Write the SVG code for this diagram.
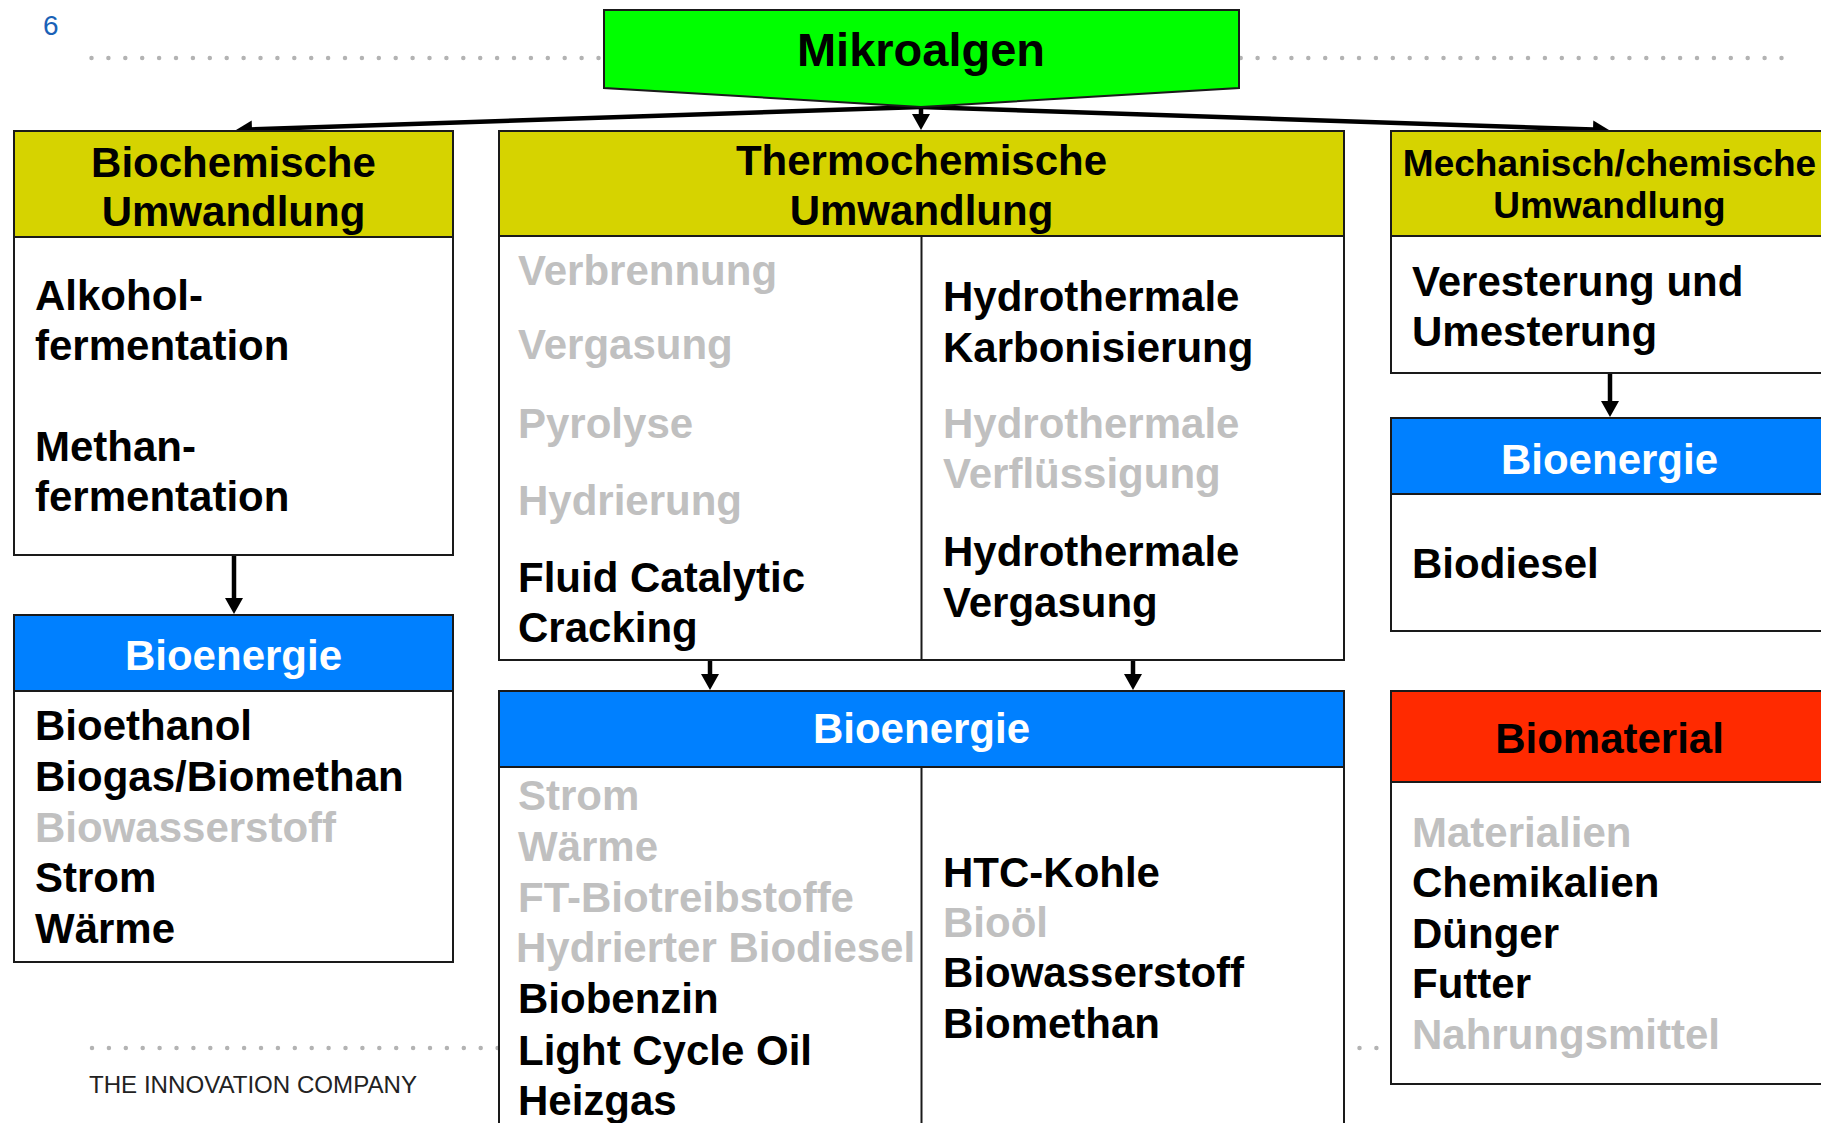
<svg xmlns="http://www.w3.org/2000/svg" width="1821" height="1123" viewBox="0 0 1821 1123">
  <defs>
    <style>
      text { font-family: "Liberation Sans", Arial, sans-serif; }
      .t { font-weight: bold; font-size: 42px; fill: #000; }
      .g { fill: #c0c0c0; }
      .w { fill: #ffffff; }
      .c { text-anchor: middle; }
      .h37 { font-size: 37px; }
      .h47 { font-size: 47px; }
      .box { fill: #ffffff; stroke: #1a1a1a; stroke-width: 2; }
      .yel { fill: #d6d300; stroke: #1a1a1a; stroke-width: 2; }
      .blu { fill: #0080ff; stroke: #1a1a1a; stroke-width: 2; }
      .red { fill: #ff2a00; stroke: #1a1a1a; stroke-width: 2; }
      .div { stroke: #1a1a1a; stroke-width: 2; }
      .dots { stroke: #b3b3b3; stroke-width: 4.5; stroke-linecap: round; stroke-dasharray: 0 16.9; fill: none; }
      .conn { stroke: #000; stroke-width: 4.5; fill: none; marker-end: url(#head); }
    </style>
    <marker id="head" markerUnits="userSpaceOnUse" viewBox="0 0 16 18" markerWidth="16" markerHeight="18" refX="8" refY="9" orient="auto">
      <path d="M0,0 L16,9 L0,18 z" fill="#000"/>
    </marker>
  </defs>

  <rect width="1821" height="1123" fill="#ffffff"/>

  <!-- page furniture -->
  <text x="43" y="35" font-size="28" fill="#1a62b7">6</text>
  <line class="dots" x1="91.5" y1="58" x2="1784" y2="58"/>
  <line class="dots" x1="92" y1="1048" x2="1784" y2="1048"/>
  <text x="89" y="1093" font-size="24" fill="#222" textLength="328" lengthAdjust="spacingAndGlyphs">THE INNOVATION COMPANY</text>

  <!-- connectors -->
  <g id="connectors">
    <line class="conn" x1="921" y1="107" x2="244" y2="129.7"/>
    <line class="conn" x1="921" y1="107" x2="921" y2="122"/>
    <line class="conn" x1="921" y1="107" x2="1601" y2="129.7"/>
    <line class="conn" x1="234" y1="555" x2="234" y2="606"/>
    <line class="conn" x1="1610" y1="373" x2="1610" y2="409"/>
    <line class="conn" x1="710" y1="660" x2="710" y2="682"/>
    <line class="conn" x1="1133" y1="660" x2="1133" y2="682"/>
  </g>

  <!-- source -->
  <g id="mikroalgen">
    <polygon points="604,10 1239,10 1239,88 921,107 604,88" fill="#00ff00" stroke="#1a1a1a" stroke-width="2"/>
    <text class="t c h47" x="921" y="66">Mikroalgen</text>
  </g>

  <!-- biochemical branch -->
  <g id="biochemische-umwandlung">
    <rect class="box" x="14" y="131" width="439" height="424"/>
    <rect class="yel" x="14" y="131" width="439" height="106"/>
    <text class="t c" x="233.5" y="177">Biochemische</text>
    <text class="t c" x="233.5" y="226">Umwandlung</text>
    <text class="t" x="35" y="310">Alkohol-</text>
    <text class="t" x="35" y="360">fermentation</text>
    <text class="t" x="35" y="461">Methan-</text>
    <text class="t" x="35" y="511">fermentation</text>
  </g>

  <g id="bioenergie-bio">
    <rect class="box" x="14" y="615" width="439" height="347"/>
    <rect class="blu" x="14" y="615" width="439" height="76"/>
    <text class="t c w" x="233.5" y="670">Bioenergie</text>
    <text class="t" x="35" y="740">Bioethanol</text>
    <text class="t" x="35" y="791">Biogas/Biomethan</text>
    <text class="t g" x="35" y="842">Biowasserstoff</text>
    <text class="t" x="35" y="892">Strom</text>
    <text class="t" x="35" y="943">Wärme</text>
  </g>

  <!-- thermochemical branch -->
  <g id="thermochemische-umwandlung">
    <rect class="box" x="499" y="131" width="845" height="529"/>
    <rect class="yel" x="499" y="131" width="845" height="105"/>
    <line class="div" x1="921.5" y1="236" x2="921.5" y2="660"/>
    <text class="t c" x="921.5" y="175">Thermochemische</text>
    <text class="t c" x="921.5" y="225">Umwandlung</text>
    <text class="t g" x="518" y="285">Verbrennung</text>
    <text class="t g" x="518" y="359">Vergasung</text>
    <text class="t g" x="518" y="438">Pyrolyse</text>
    <text class="t g" x="518" y="515">Hydrierung</text>
    <text class="t" x="518" y="592">Fluid Catalytic</text>
    <text class="t" x="518" y="642">Cracking</text>
    <text class="t" x="943" y="311">Hydrothermale</text>
    <text class="t" x="943" y="362">Karbonisierung</text>
    <text class="t g" x="943" y="438">Hydrothermale</text>
    <text class="t g" x="943" y="488">Verflüssigung</text>
    <text class="t" x="943" y="566">Hydrothermale</text>
    <text class="t" x="943" y="617">Vergasung</text>
  </g>

  <g id="bioenergie-thermo">
    <rect class="box" x="499" y="691" width="845" height="450"/>
    <rect class="blu" x="499" y="691" width="845" height="76"/>
    <line class="div" x1="921.5" y1="767" x2="921.5" y2="1130"/>
    <text class="t c w" x="921.5" y="743">Bioenergie</text>
    <text class="t g" x="518" y="810">Strom</text>
    <text class="t g" x="518" y="861">Wärme</text>
    <text class="t g" x="518" y="912">FT-Biotreibstoffe</text>
    <text class="t g" x="516" y="962">Hydrierter Biodiesel</text>
    <text class="t" x="518" y="1013">Biobenzin</text>
    <text class="t" x="518" y="1065">Light Cycle Oil</text>
    <text class="t" x="518" y="1115">Heizgas</text>
    <text class="t" x="943" y="887">HTC-Kohle</text>
    <text class="t g" x="943" y="937">Bioöl</text>
    <text class="t" x="943" y="987">Biowasserstoff</text>
    <text class="t" x="943" y="1038">Biomethan</text>
  </g>

  <!-- mechanical / chemical branch -->
  <g id="mechanisch-chemische-umwandlung">
    <rect class="box" x="1391" y="131" width="437" height="242"/>
    <rect class="yel" x="1391" y="131" width="437" height="105"/>
    <text class="t c h37" x="1609.5" y="176">Mechanisch/chemische</text>
    <text class="t c h37" x="1609.5" y="218">Umwandlung</text>
    <text class="t" x="1412" y="296">Veresterung und</text>
    <text class="t" x="1412" y="346">Umesterung</text>
  </g>

  <g id="bioenergie-mech">
    <rect class="box" x="1391" y="418" width="437" height="213"/>
    <rect class="blu" x="1391" y="418" width="437" height="76"/>
    <text class="t c w" x="1609.5" y="474">Bioenergie</text>
    <text class="t" x="1412" y="578">Biodiesel</text>
  </g>

  <g id="biomaterial">
    <rect class="box" x="1391" y="691" width="437" height="393"/>
    <rect class="red" x="1391" y="691" width="437" height="91"/>
    <text class="t c" x="1609.5" y="753">Biomaterial</text>
    <text class="t g" x="1412" y="847">Materialien</text>
    <text class="t" x="1412" y="897">Chemikalien</text>
    <text class="t" x="1412" y="948">Dünger</text>
    <text class="t" x="1412" y="998">Futter</text>
    <text class="t g" x="1412" y="1049">Nahrungsmittel</text>
  </g>
</svg>
